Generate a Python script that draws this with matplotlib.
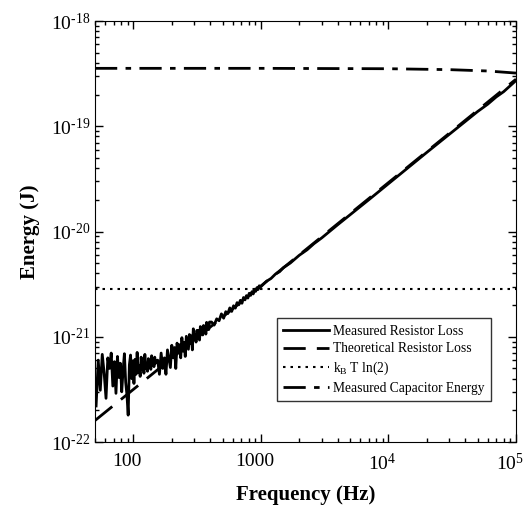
import numpy as np
import matplotlib
matplotlib.use("Agg")
import matplotlib.pyplot as plt
import matplotlib.transforms as mtransforms

plt.rcParams['font.family'] = ['Liberation Serif', 'DejaVu Serif']
plt.rcParams['mathtext.fontset'] = 'custom'
plt.rcParams['mathtext.rm'] = 'Liberation Serif'
plt.rcParams['mathtext.it'] = 'Liberation Serif:italic'
plt.rcParams['mathtext.bf'] = 'Liberation Serif:bold'

# measured resistor loss (energy in units of 1e-22 J)
f_low = list(range(51, 150, 2))
e_low = [2.2, 6.0, 3.1, 6.8, 4.5, 2.6, 6.3, 5.0, 7.0, 3.4, 5.8, 2.9, 6.5, 4.1, 5.6,
         3.0, 4.8, 6.9, 3.7, 2.8, 1.8, 5.4, 6.7, 4.0, 5.9, 3.6, 6.1, 4.4, 7.1, 4.6,
         5.3, 4.2, 6.4, 4.9, 5.7, 4.5, 6.8, 5.0, 5.5, 4.7, 6.2, 5.1, 5.8, 4.9, 6.6,
         5.4, 5.9, 5.2, 6.4, 5.6]
f_mid = list(range(155, 400, 5))
e_mid = [6.0, 4.4, 7.0, 5.0, 6.3, 4.4, 7.5, 6.2, 5.1, 8.3, 6.3, 7.9, 5.0, 8.7, 7.2,
         8.4, 6.3, 9.8, 7.3, 8.8, 6.5, 10.1, 8.8, 7.6, 10.5, 8.6, 10.2, 7.5, 11.9, 9.4,
         10.4, 8.9, 11.5, 9.6, 11.5, 9.3, 12.5, 10.9, 11.5, 10.4, 12.8, 11.0, 12.6,
         10.6, 13.7, 11.8, 13.1, 11.7, 13.8]
f_upper = list(range(410, 1000, 20))
e_upper = [13.8, 12.9, 14.8, 14.2, 16.5, 15.0, 17.3, 16.6, 18.8, 17.4, 19.7, 18.7,
           21.1, 20.1, 22.2, 20.8, 23.6, 22.4, 24.6, 23.3, 25.9, 24.7, 26.8, 25.5,
           28.3, 27.0, 29.3, 28.1, 30.5, 29.6]
f_high = [1100, 1200, 1300, 1400, 1500, 1700, 2000, 2300, 2600, 3000, 4000, 5000,
          7000, 10000, 15000, 20000, 30000, 40000, 50000, 60000, 70000, 80000,
          90000, 100000]
e_high = [33.5, 35.8, 39.4, 41.5, 45.3, 50.2, 59.5, 67.0, 76.5, 87, 116, 144, 200,
          285, 425, 565, 840, 1110, 1380, 1620, 1900, 2130, 2420, 2720]

# theoretical resistor loss (J)
f_theory = [50, 100000]
e_theory = [1.6e-22, 2.8e-19]

# kB T ln(2) at room temperature (J)
kt_ln2 = 2.87e-21

# measured capacitor energy (J)
f_cap = [50, 1000, 10000, 30000, 60000, 100000]
e_cap = [3.55e-19, 3.55e-19, 3.52e-19, 3.45e-19, 3.35e-19, 3.2e-19]

f_meas = np.array(f_low + f_mid + f_upper + f_high, dtype=float)
e_meas = np.array(e_low + e_mid + e_upper + e_high) * 1e-22

fig = plt.figure(figsize=(5.24, 5.08), dpi=100)
ax = fig.add_axes([95 / 524, 1 - 442 / 508, 421 / 524, 421 / 508])

ax.plot(f_meas, e_meas, color='black', lw=2, label='Measured Resistor Loss')
ax.plot(f_theory, e_theory, color='black', lw=2, dashes=(8, 4),
        label='Theoretical Resistor Loss')
ax.plot([50, 1e5], [kt_ln2, kt_ln2], color='black', lw=1.5, dashes=(1.2, 2.4),
        label=r'k$_{\mathregular{B}}$ T ln(2)')
ax.plot(f_cap, e_cap, color='black', lw=2, dashes=(8, 3, 2, 3),
        label='Measured Capacitor Energy')

ax.set_xscale('log')
ax.set_yscale('log')
ax.set_xlim(50, 1e5)
ax.set_ylim(1e-22, 1e-18)

ax.set_xticks([100, 1000, 1e4, 1e5])
ax.set_xticklabels(['100', '1000', r'10$^4$', r'10$^5$'])
ax.set_yticks([1e-22, 1e-21, 1e-20, 1e-19, 1e-18])
ax.set_yticklabels(['10$^{\\mathregular{\u2010%d}}$' % k for k in (22, 21, 20, 19, 18)])
ax.tick_params(which='both', direction='in', top=True, right=True, labelsize=14)
ax.tick_params(which='major', length=6, width=1)
ax.tick_params(which='minor', length=3, width=1)
ax.tick_params(axis='x', pad=8)

# x tick labels sit a little left of their ticks in the original
shift = mtransforms.ScaledTranslation(-6 / 100, 0, fig.dpi_scale_trans)
for lbl in ax.get_xticklabels():
    lbl.set_transform(lbl.get_transform() + shift)

ax.set_xlabel('Frequency (Hz)', fontsize=15, fontweight='bold', labelpad=8)
ax.set_ylabel('Energy (J)', fontsize=15, fontweight='bold', labelpad=8)

leg = ax.legend(loc='lower right', bbox_to_anchor=(0.94, 0.097), borderaxespad=0,
                fontsize=9.75, frameon=True, fancybox=False, edgecolor='black',
                handlelength=3.4, handletextpad=0.3, borderpad=0.45,
                labelspacing=0.35)
leg.get_frame().set_linewidth(1)

fig.savefig('out.png', dpi=100)
